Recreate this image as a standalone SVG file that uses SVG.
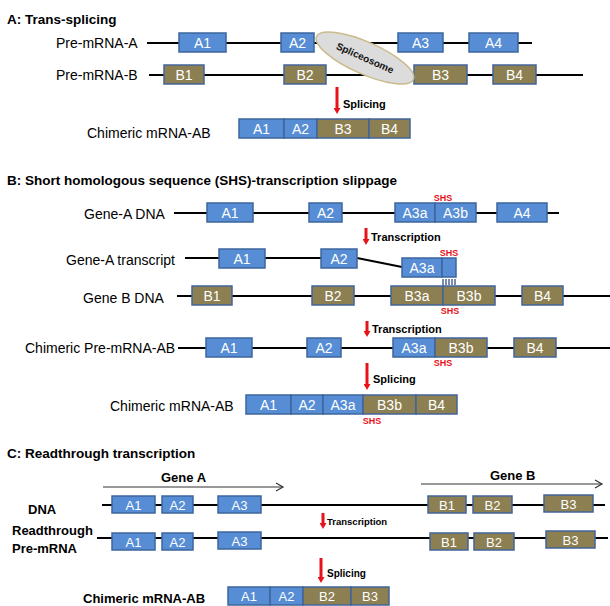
<svg xmlns="http://www.w3.org/2000/svg" width="610" height="606" viewBox="0 0 610 606">
<defs>
<style>
text{font-family:"Liberation Sans",Arial,sans-serif}
.tt{font-size:13.5px;font-weight:bold;fill:#000}
.lb{font-size:14px;fill:#000}
.lbb{font-size:13px;font-weight:bold;fill:#000}
.ln{stroke:#000;stroke-width:2;fill:none}
.ba{fill:#568dd4;stroke:#3c659d;stroke-width:1.5}
.bo{fill:#8c7f52;stroke:#41649a;stroke-width:1.5}
.bt{font-size:14px;fill:#fff;text-anchor:middle}
.bs{font-size:13px;fill:#fff;text-anchor:middle}
.shs{font-size:9px;font-weight:bold;fill:#e8121a;text-anchor:middle}
.ra{stroke:#e8121a;stroke-width:3;fill:none}
.rt{font-size:11px;font-weight:bold;fill:#000}
.ga{stroke:#333;stroke-width:1.2;fill:none}
.hatch{stroke:#2f4f80;stroke-width:1.3}
</style>
<marker id="rh" markerUnits="userSpaceOnUse" markerWidth="9" markerHeight="7" refX="1" refY="3.5" orient="auto">
<path d="M0,0 L6,3.5 L0,7 Z" fill="#e8121a"/>
</marker>
<marker id="gh" markerUnits="userSpaceOnUse" markerWidth="10" markerHeight="10" refX="8" refY="5" orient="auto">
<path d="M1,1 L8,5 L1,9" fill="none" stroke="#333" stroke-width="1.2"/>
</marker>
</defs>
<rect width="610" height="606" fill="#fff"/>

<!-- titles and labels -->
<g id="labels">
<text class="tt" x="7" y="24">A: Trans-splicing</text>
<text class="lb" x="56" y="48">Pre-mRNA-A</text>
<text class="lb" x="56" y="80">Pre-mRNA-B</text>
<text class="lb" x="87" y="138">Chimeric mRNA-AB</text>
<text class="tt" x="7" y="185">B: Short homologous sequence (SHS)-transcription slippage</text>
<text class="lb" x="84" y="219">Gene-A DNA</text>
<text class="lb" x="66" y="265">Gene-A transcript</text>
<text class="lb" x="83" y="303">Gene B DNA</text>
<text class="lb" x="25" y="353">Chimeric Pre-mRNA-AB</text>
<text class="lb" x="110" y="411">Chimeric mRNA-AB</text>
<text class="tt" x="7" y="458">C: Readthrough transcription</text>
<text class="lbb" x="161" y="482">Gene A</text>
<text class="lbb" x="490" y="480">Gene B</text>
<text class="lbb" x="28" y="514">DNA</text>
<text class="lbb" x="12" y="535">Readthrough</text>
<text class="lbb" x="12" y="553">Pre-mRNA</text>
<text class="lbb" x="83" y="603">Chimeric mRNA-AB</text>
</g>

<!-- connectors -->
<g id="connectors">
<line class="ln" x1="147" y1="43" x2="532" y2="43"/>
<line class="ln" x1="149" y1="75" x2="583" y2="75"/>
<line class="ln" x1="174" y1="213" x2="559" y2="213"/>
<line class="ln" x1="185" y1="258" x2="321" y2="258"/>
<line class="ln" x1="357" y1="258" x2="402" y2="267"/>
<line class="ln" x1="177" y1="296" x2="610" y2="296"/>
<line class="ln" x1="178" y1="348" x2="610" y2="348"/>
<line class="ln" x1="102" y1="505" x2="605" y2="505"/>
<line class="ln" x1="97" y1="538" x2="608" y2="538"/>
<line class="ga" x1="103" y1="487" x2="283" y2="487" marker-end="url(#gh)"/>
<line class="ga" x1="421" y1="484" x2="602" y2="484" marker-end="url(#gh)"/>
<line class="ra" x1="337" y1="87" x2="337" y2="109" marker-end="url(#rh)"/>
<line class="ra" x1="366" y1="228" x2="366" y2="240" marker-end="url(#rh)"/>
<line class="ra" x1="367" y1="321" x2="367" y2="332" marker-end="url(#rh)"/>
<line class="ra" x1="367" y1="363" x2="367" y2="385" marker-end="url(#rh)"/>
<line class="ra" x1="323" y1="513" x2="323" y2="524" marker-end="url(#rh)"/>
<line class="ra" x1="321" y1="558" x2="321" y2="578" marker-end="url(#rh)"/>
<g class="hatch">
<line x1="443" y1="279" x2="443" y2="285"/>
<line x1="446" y1="279" x2="446" y2="285"/>
<line x1="449" y1="279" x2="449" y2="285"/>
<line x1="452" y1="279" x2="452" y2="285"/>
<line x1="455" y1="279" x2="455" y2="285"/>
</g>
<text class="rt" x="343" y="108">Splicing</text>
<text class="rt" x="371" y="241">Transcription</text>
<text class="rt" x="372" y="333">Transcription</text>
<text class="rt" x="373" y="383">Splicing</text>
<text class="rt" x="327" y="525" style="font-size:9.5px">Transcription</text>
<text class="rt" x="327" y="577" style="font-size:10px">Splicing</text>
</g>

<!-- Section A -->
<g id="A-preA-A1"><rect class="ba" x="179" y="33" width="47" height="19"/><text class="bt" x="202.5" y="48">A1</text></g>
<g id="A-preA-A2"><rect class="ba" x="281" y="33" width="33" height="19"/><text class="bt" x="297.5" y="48">A2</text></g>
<g id="A-preA-A3"><rect class="ba" x="398" y="33" width="45" height="19"/><text class="bt" x="420.5" y="48">A3</text></g>
<g id="A-preA-A4"><rect class="ba" x="469" y="33" width="49" height="19"/><text class="bt" x="493.5" y="48">A4</text></g>
<g id="A-preB-B1"><rect class="bo" x="164" y="65" width="40" height="19"/><text class="bt" x="184" y="80">B1</text></g>
<g id="A-preB-B2"><rect class="bo" x="284" y="65" width="42" height="19"/><text class="bt" x="305" y="80">B2</text></g>
<g id="A-preB-B3"><rect class="bo" x="414" y="65" width="53" height="19"/><text class="bt" x="440.5" y="80">B3</text></g>
<g id="A-preB-B4"><rect class="bo" x="493" y="65" width="43" height="19"/><text class="bt" x="514.5" y="80">B4</text></g>
<g id="spliceosome" transform="translate(365,58) rotate(24)">
<ellipse cx="0" cy="0" rx="53" ry="16" fill="#dcdcdc" stroke="#c9bb8c" stroke-width="1.5"/>
<text x="0" y="3.5" text-anchor="middle" style="font-size:10px;font-weight:bold;fill:#111">Spliceosome</text>
</g>
<g id="A-chim-A1"><rect class="ba" x="239" y="119" width="45" height="19"/><text class="bt" x="261.5" y="134">A1</text></g>
<g id="A-chim-A2"><rect class="ba" x="284" y="119" width="33" height="19"/><text class="bt" x="300.5" y="134">A2</text></g>
<g id="A-chim-B3"><rect class="bo" x="317" y="119" width="52" height="19"/><text class="bt" x="343" y="134">B3</text></g>
<g id="A-chim-B4"><rect class="bo" x="369" y="119" width="41" height="19"/><text class="bt" x="389.5" y="134">B4</text></g>

<!-- Section B -->
<g id="B-dnaA-A1"><rect class="ba" x="207" y="203" width="46" height="19"/><text class="bt" x="230" y="218">A1</text></g>
<g id="B-dnaA-A2"><rect class="ba" x="309" y="203" width="33" height="19"/><text class="bt" x="325.5" y="218">A2</text></g>
<g id="B-dnaA-A3a"><rect class="ba" x="395" y="203" width="40" height="19"/><text class="bt" x="415" y="218">A3a</text></g>
<g id="B-dnaA-A3b"><rect class="ba" x="435" y="203" width="41" height="19"/><text class="bt" x="455.5" y="218">A3b</text></g>
<g id="B-dnaA-A4"><rect class="ba" x="497" y="203" width="50" height="19"/><text class="bt" x="522" y="218">A4</text></g>
<text class="shs" x="443" y="201">SHS</text>

<g id="B-tr-A1"><rect class="ba" x="219" y="249" width="46" height="19"/><text class="bt" x="242" y="264">A1</text></g>
<g id="B-tr-A2"><rect class="ba" x="321" y="249" width="36" height="19"/><text class="bt" x="339" y="264">A2</text></g>
<g id="B-tr-A3a"><rect class="ba" x="402" y="258" width="40" height="19"/><text class="bt" x="422" y="273">A3a</text></g>
<g id="B-tr-SHS"><rect class="ba" x="442" y="258" width="14" height="19"/></g>
<text class="shs" x="449" y="256">SHS</text>

<g id="B-dnaB-B1"><rect class="bo" x="192" y="286" width="40" height="19"/><text class="bt" x="212" y="301">B1</text></g>
<g id="B-dnaB-B2"><rect class="bo" x="312" y="286" width="42" height="19"/><text class="bt" x="333" y="301">B2</text></g>
<g id="B-dnaB-B3a"><rect class="bo" x="391" y="286" width="52" height="19"/><text class="bt" x="417" y="301">B3a</text></g>
<g id="B-dnaB-B3b"><rect class="bo" x="443" y="286" width="52" height="19"/><text class="bt" x="469" y="301">B3b</text></g>
<g id="B-dnaB-B4"><rect class="bo" x="522" y="286" width="41" height="19"/><text class="bt" x="542.5" y="301">B4</text></g>
<text class="shs" x="450" y="314">SHS</text>

<g id="B-pre-A1"><rect class="ba" x="206" y="338" width="46" height="19"/><text class="bt" x="229" y="353">A1</text></g>
<g id="B-pre-A2"><rect class="ba" x="307" y="338" width="34" height="19"/><text class="bt" x="324" y="353">A2</text></g>
<g id="B-pre-A3a"><rect class="ba" x="393" y="338" width="42" height="19"/><text class="bt" x="414" y="353">A3a</text></g>
<g id="B-pre-B3b"><rect class="bo" x="435" y="338" width="52" height="19"/><text class="bt" x="461" y="353">B3b</text></g>
<g id="B-pre-B4"><rect class="bo" x="514" y="338" width="42" height="19"/><text class="bt" x="535" y="353">B4</text></g>
<text class="shs" x="443" y="366">SHS</text>

<g id="B-chim-A1"><rect class="ba" x="246" y="395" width="45" height="19"/><text class="bt" x="268.5" y="410">A1</text></g>
<g id="B-chim-A2"><rect class="ba" x="291" y="395" width="32" height="19"/><text class="bt" x="307" y="410">A2</text></g>
<g id="B-chim-A3a"><rect class="ba" x="323" y="395" width="40" height="19"/><text class="bt" x="343" y="410">A3a</text></g>
<g id="B-chim-B3b"><rect class="bo" x="363" y="395" width="53" height="19"/><text class="bt" x="389.5" y="410">B3b</text></g>
<g id="B-chim-B4"><rect class="bo" x="416" y="395" width="41" height="19"/><text class="bt" x="436.5" y="410">B4</text></g>
<text class="shs" x="372" y="424">SHS</text>

<!-- Section C -->
<g id="C-dna-A1"><rect class="ba" x="112" y="496" width="43" height="17"/><text class="bs" x="133.5" y="509.5">A1</text></g>
<g id="C-dna-A2"><rect class="ba" x="162" y="496" width="31" height="17"/><text class="bs" x="177.5" y="509.5">A2</text></g>
<g id="C-dna-A3"><rect class="ba" x="218" y="496" width="43" height="17"/><text class="bs" x="239.5" y="509.5">A3</text></g>
<g id="C-dna-B1"><rect class="bo" x="428" y="496" width="38" height="17"/><text class="bs" x="447" y="509.5">B1</text></g>
<g id="C-dna-B2"><rect class="bo" x="473" y="496" width="39" height="17"/><text class="bs" x="492.5" y="509.5">B2</text></g>
<g id="C-dna-B3"><rect class="bo" x="544" y="495" width="49" height="17"/><text class="bs" x="568.5" y="508.5">B3</text></g>

<g id="C-pre-A1"><rect class="ba" x="112" y="533" width="43" height="17"/><text class="bs" x="133.5" y="546.5">A1</text></g>
<g id="C-pre-A2"><rect class="ba" x="162" y="533" width="31" height="17"/><text class="bs" x="177.5" y="546.5">A2</text></g>
<g id="C-pre-A3"><rect class="ba" x="218" y="532" width="43" height="17"/><text class="bs" x="239.5" y="545.5">A3</text></g>
<g id="C-pre-B1"><rect class="bo" x="430" y="533" width="38" height="17"/><text class="bs" x="449" y="546.5">B1</text></g>
<g id="C-pre-B2"><rect class="bo" x="474" y="533" width="40" height="17"/><text class="bs" x="494" y="546.5">B2</text></g>
<g id="C-pre-B3"><rect class="bo" x="546" y="531" width="49" height="17"/><text class="bs" x="570.5" y="544.5">B3</text></g>

<g id="C-chim-A1"><rect class="ba" x="228" y="587" width="42" height="18"/><text class="bs" x="249" y="601">A1</text></g>
<g id="C-chim-A2"><rect class="ba" x="270" y="587" width="33" height="18"/><text class="bs" x="286.5" y="601">A2</text></g>
<g id="C-chim-B2"><rect class="bo" x="303" y="587" width="48" height="18"/><text class="bs" x="327" y="601">B2</text></g>
<g id="C-chim-B3"><rect class="bo" x="351" y="587" width="38" height="18"/><text class="bs" x="370" y="601">B3</text></g>
</svg>
